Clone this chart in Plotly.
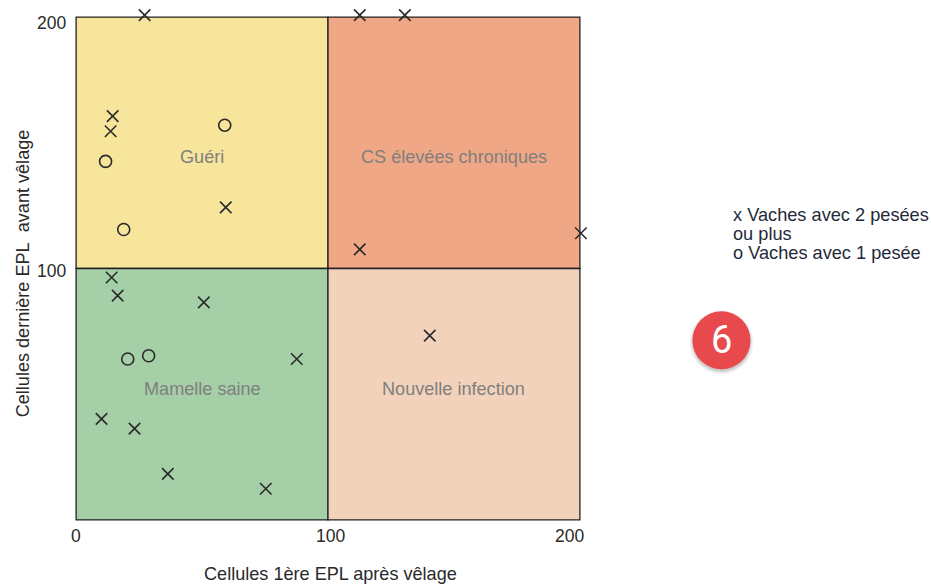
import plotly.graph_objects as go

x_two = [27.2, 112.6, 130.5, 14.5, 13.7, 59.4, 112.6, 200.4, 14.1, 16.5, 50.7, 87.6, 140.4, 10.1, 23.2, 36.4, 75.3]
y_two = [200.8, 200.8, 200.8, 160.6, 154.6, 124.3, 107.6, 114, 96.4, 89.2, 86.5, 64, 73.3, 40.2, 36.3, 18.3, 12.4]
x_one = [59, 11.7, 18.9, 20.5, 28.8]
y_one = [157, 142.6, 115.5, 64, 65.3]
tick_vals = [0, 100, 200]
tick_text = ["0", "100", "200"]
quad_names = ["Guéri", "CS élevées chroniques", "Mamelle saine", "Nouvelle infection"]
quad_x = [50, 150, 50, 150]
quad_y = [150, 150, 50, 50]
legend_lines = ["x Vaches avec 2 pesées", "ou plus", "o Vaches avec 1 pesée"]

FONT = "Liberation Sans"
INK = "#2a2a2a"
W, H = 931, 584
PAD = 6  # data units of room so edge marks stay visible
X0, X1, Y0, Y1 = 76.0, 579.5, 17.0, 519.5
ux = (X1 - X0) / 200
uy = (Y1 - Y0) / 200
L, R = X0 - PAD * ux, X1 + PAD * ux
T, B = Y0 - PAD * uy, Y1 + PAD * uy


def px(v):
    return (v - L) / (R - L)


def py(v):
    return (B - v) / (B - T)


fig = go.Figure()
fig.add_trace(go.Scatter(x=x_two, y=y_two, mode="markers", cliponaxis=False, showlegend=False,
                         marker=dict(symbol="x-thin", size=11.5, line=dict(color=INK, width=1.6))))
fig.add_trace(go.Scatter(x=x_one, y=y_one, mode="markers", cliponaxis=False, showlegend=False,
                         marker=dict(symbol="circle-open", size=12, color=INK, line=dict(color=INK, width=1.6))))

rects = [(0, 100, 100, 200, "#F7E59B"), (100, 200, 100, 200, "#F0A785"),
         (0, 100, 0, 100, "#A5CFA6"), (100, 200, 0, 100, "#F3D2BB")]
for x0, x1, y0, y1, c in rects:
    fig.add_shape(type="rect", xref="x", yref="y", x0=x0, x1=x1, y0=y0, y1=y1, fillcolor=c,
                  line=dict(color="#222222", width=1.3), layer="below")

ann = []
for n, qx, qy, s in zip(quad_names, quad_x, quad_y, [-14, -14, 5, 5]):
    ann.append(dict(x=qx, y=qy, xref="x", yref="y", text=n, showarrow=False, yshift=s,
                    xanchor="center", yanchor="middle",
                    font=dict(family=FONT, size=18.1, color="#7f7f7f")))

for v, t, s in zip(tick_vals, tick_text, [0, 2, -10]):
    ann.append(dict(x=v, y=0, xref="x", yref="y", text=t, showarrow=False, xshift=s, yshift=-16,
                    xanchor="center", yanchor="middle",
                    font=dict(family=FONT, size=17.5, color=INK)))
for v, t, s in zip(tick_vals[1:], tick_text[1:], [-2, -6]):
    ann.append(dict(x=0, y=v, xref="x", yref="y", text=t, showarrow=False, xanchor="right", yanchor="middle",
                    xshift=-8, yshift=s, font=dict(family=FONT, size=17.5, color=INK)))

ann.append(dict(x=px(330.5), y=py(574), xref="paper", yref="paper", text="Cellules 1ère EPL après vêlage",
                xanchor="center", yanchor="middle", showarrow=False, font=dict(family=FONT, size=18.1, color=INK)))
ann.append(dict(x=px(23), y=py(273), xref="paper", yref="paper", text="Cellules dernière EPL&nbsp;&nbsp;avant vêlage",
                xanchor="center", yanchor="middle", textangle=-90, showarrow=False,
                font=dict(family=FONT, size=18.1, color=INK)))
for line, yy in zip(legend_lines, [214.4, 233.4, 252.4]):
    ann.append(dict(x=px(731), y=py(yy), xref="paper", yref="paper", text=line, xanchor="left", yanchor="middle",
                    showarrow=False, font=dict(family=FONT, size=18.2, color="#1f2a3a")))
ann.append(dict(x=px(721), y=py(340), xref="paper", yref="paper", text="6", showarrow=False,
                xanchor="center", yanchor="middle",
                font=dict(family="Roboto", size=38, color="#ffffff")))

for grow, op in [(5, 0.05), (4, 0.07), (3, 0.09), (2, 0.12)]:
    r = 29 + grow - 2
    fig.add_shape(type="circle", xref="paper", yref="paper", x0=px(721 - r), x1=px(721 + r),
                  y0=py(342 + r), y1=py(342 - r), fillcolor="#555555", opacity=op, line_width=0)
fig.add_shape(type="circle", xref="paper", yref="paper", x0=px(721 - 29), x1=px(721 + 29),
              y0=py(340 + 29), y1=py(340 - 29), fillcolor="#E8494D", line_width=0)

fig.update_layout(width=W, height=H, margin=dict(l=L, r=W - R, t=T, b=H - B),
                  paper_bgcolor="white", plot_bgcolor="rgba(0,0,0,0)", showlegend=False, annotations=ann,
                  xaxis=dict(range=[-PAD, 200 + PAD], showgrid=False, zeroline=False, showticklabels=False, ticks="", fixedrange=True),
                  yaxis=dict(range=[-PAD, 200 + PAD], showgrid=False, zeroline=False, showticklabels=False, ticks="", fixedrange=True))
fig.write_html("out.html", config=dict(displayModeBar=False), post_script="document.body.style.margin='0';")
